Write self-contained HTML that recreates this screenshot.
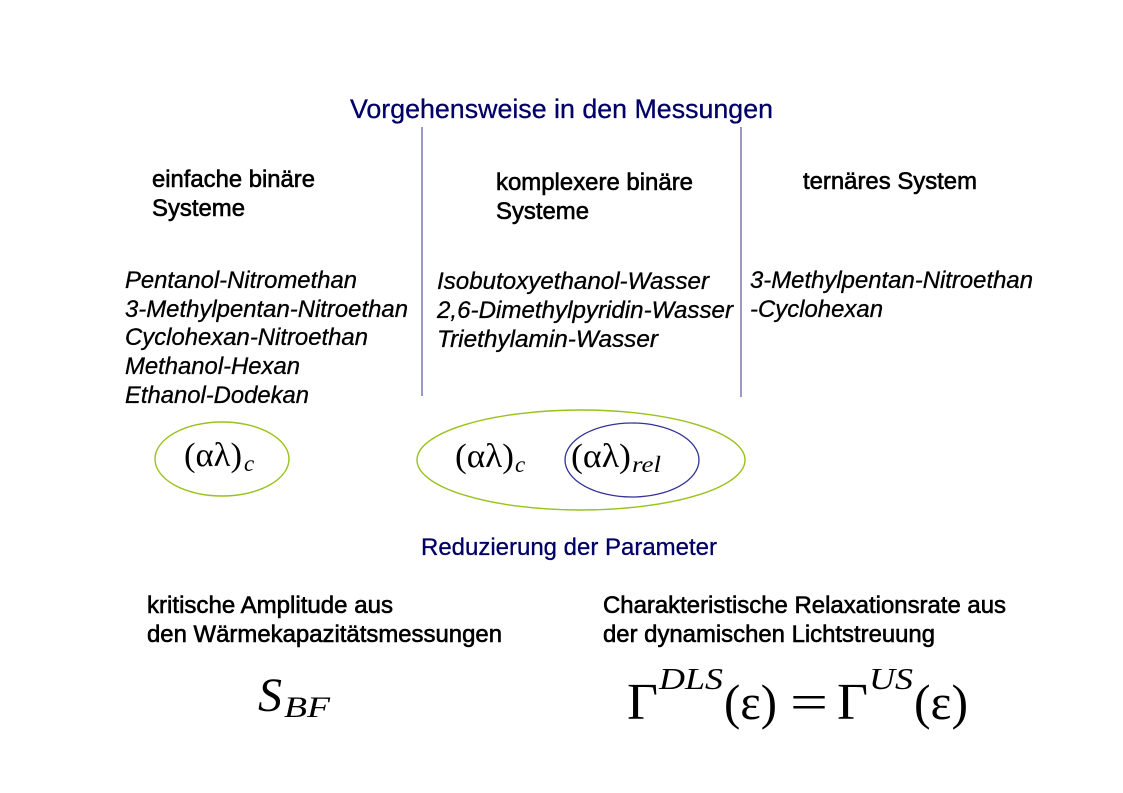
<!DOCTYPE html>
<html>
<head>
<meta charset="utf-8">
<style>
  html, body { margin:0; padding:0; background:#fff; }
  svg { display:block; }
  .sans { font-family: "Liberation Sans", "DejaVu Sans", sans-serif; }
  .serif { font-family: "Liberation Serif", "DejaVu Serif", serif; }
</style>
</head>
<body>
<svg width="1123" height="793" viewBox="0 0 1123 793" xmlns="http://www.w3.org/2000/svg">
  <rect width="1123" height="793" fill="#fff"/>

  <!-- Title -->
  <text class="sans" x="350" y="118" font-size="26.5" fill="#000066" stroke="#000066" stroke-width="0.3" textLength="423" lengthAdjust="spacingAndGlyphs">Vorgehensweise in den Messungen</text>

  <!-- Vertical separators -->
  <line x1="422" y1="127" x2="422" y2="396" stroke="#8080b4" stroke-width="1.6"/>
  <line x1="741" y1="127" x2="741" y2="397" stroke="#8080b4" stroke-width="1.6"/>

  <!-- Column headers -->
  <g class="sans" font-size="23.8" fill="#000" stroke="#000" stroke-width="0.6">
    <text x="152" y="187" textLength="163" lengthAdjust="spacingAndGlyphs">einfache binäre</text>
    <text x="152" y="216" textLength="93" lengthAdjust="spacingAndGlyphs">Systeme</text>
    <text x="496" y="190" textLength="197" lengthAdjust="spacingAndGlyphs">komplexere binäre</text>
    <text x="496" y="219" textLength="93" lengthAdjust="spacingAndGlyphs">Systeme</text>
    <text x="803" y="189" textLength="174" lengthAdjust="spacingAndGlyphs">ternäres System</text>
  </g>

  <!-- Italic lists -->
  <g class="sans" font-size="23.8" font-style="italic" fill="#000" stroke="#000" stroke-width="0.3">
    <text x="125" y="288" textLength="232" lengthAdjust="spacingAndGlyphs">Pentanol-Nitromethan</text>
    <text x="125" y="317" textLength="283" lengthAdjust="spacingAndGlyphs">3-Methylpentan-Nitroethan</text>
    <text x="125" y="345" textLength="243" lengthAdjust="spacingAndGlyphs">Cyclohexan-Nitroethan</text>
    <text x="125" y="374" textLength="175" lengthAdjust="spacingAndGlyphs">Methanol-Hexan</text>
    <text x="125" y="403" textLength="184" lengthAdjust="spacingAndGlyphs">Ethanol-Dodekan</text>

    <text x="437" y="289" textLength="272" lengthAdjust="spacingAndGlyphs">Isobutoxyethanol-Wasser</text>
    <text x="437" y="318" textLength="296" lengthAdjust="spacingAndGlyphs">2,6-Dimethylpyridin-Wasser</text>
    <text x="437" y="347" textLength="221" lengthAdjust="spacingAndGlyphs">Triethylamin-Wasser</text>

    <text x="750" y="288" textLength="283" lengthAdjust="spacingAndGlyphs">3-Methylpentan-Nitroethan</text>
    <text x="750" y="317" textLength="133" lengthAdjust="spacingAndGlyphs">-Cyclohexan</text>
  </g>

  <!-- Ellipses -->
  <ellipse cx="222" cy="459" rx="67" ry="37" fill="none" stroke="#99c21a" stroke-width="1.4"/>
  <ellipse cx="581" cy="460" rx="164" ry="50" fill="none" stroke="#99c21a" stroke-width="1.4"/>
  <ellipse cx="632" cy="460" rx="67" ry="37" fill="none" stroke="#333399" stroke-width="1.3"/>

  <!-- (αλ) formulas -->
  <g class="serif" fill="#000">
    <text x="184" y="466" font-size="34" textLength="58" lengthAdjust="spacingAndGlyphs">(αλ)</text>
    <text x="244" y="471" font-size="23" font-style="italic">c</text>

    <text x="455" y="467" font-size="34" textLength="59" lengthAdjust="spacingAndGlyphs">(αλ)</text>
    <text x="515" y="472" font-size="23" font-style="italic">c</text>

    <text x="571" y="467" font-size="34" textLength="60" lengthAdjust="spacingAndGlyphs">(αλ)</text>
    <text x="632" y="472" font-size="23" font-style="italic" textLength="29" lengthAdjust="spacingAndGlyphs">rel</text>
  </g>

  <!-- Reduzierung -->
  <text class="sans" x="421" y="555" font-size="24" fill="#000066" stroke="#000066" stroke-width="0.3" textLength="296" lengthAdjust="spacingAndGlyphs">Reduzierung der Parameter</text>

  <!-- Bottom headers -->
  <g class="sans" font-size="24" fill="#000" stroke="#000" stroke-width="0.6">
    <text x="147" y="613" textLength="246" lengthAdjust="spacingAndGlyphs">kritische Amplitude aus</text>
    <text x="147" y="642" textLength="355" lengthAdjust="spacingAndGlyphs">den Wärmekapazitätsmessungen</text>
    <text x="603" y="613" textLength="403" lengthAdjust="spacingAndGlyphs">Charakteristische Relaxationsrate aus</text>
    <text x="603" y="642" textLength="332" lengthAdjust="spacingAndGlyphs">der dynamischen Lichtstreuung</text>
  </g>

  <!-- S_BF -->
  <g class="serif" fill="#000">
    <text x="258" y="711" font-size="48" font-style="italic">S</text>
    <text x="284" y="717" font-size="30" font-style="italic" textLength="46" lengthAdjust="spacingAndGlyphs">BF</text>
  </g>

  <!-- Γ^DLS(ε) = Γ^US(ε) -->
  <g class="serif" fill="#000">
    <text x="627" y="719" font-size="52" textLength="31" lengthAdjust="spacingAndGlyphs">Γ</text>
    <text x="659" y="689" font-size="31" font-style="italic" textLength="64" lengthAdjust="spacingAndGlyphs">DLS</text>
    <text x="724" y="719" font-size="50" textLength="53" lengthAdjust="spacingAndGlyphs">(ε)</text>
    <text x="790" y="719" font-size="50" textLength="38" lengthAdjust="spacingAndGlyphs">=</text>
    <text x="837" y="719" font-size="52" textLength="31" lengthAdjust="spacingAndGlyphs">Γ</text>
    <text x="869" y="689" font-size="31" font-style="italic" textLength="44" lengthAdjust="spacingAndGlyphs">US</text>
    <text x="914" y="719" font-size="50" textLength="54" lengthAdjust="spacingAndGlyphs">(ε)</text>
  </g>
</svg>
</body>
</html>
